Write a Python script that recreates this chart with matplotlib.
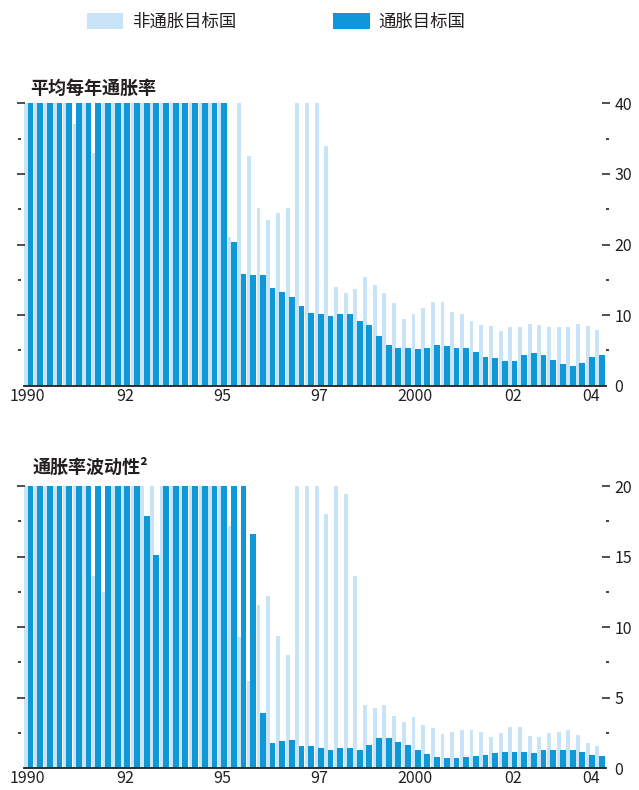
import numpy as np
import matplotlib
matplotlib.use("Agg")
import matplotlib.pyplot as plt
from matplotlib.ticker import FixedLocator

plt.rcParams['font.family'] = ['Noto Sans CJK SC', 'DejaVu Sans']

# 数据（季度柱，1990 - 2004），超出坐标上限的柱按上限截断
# 平均每年通胀率
infl_non_it = [40, 40, 40, 40, 40, 37, 40, 33, 40, 40,
               40, 40, 40, 40, 40, 40, 40, 40, 40, 40,
               40, 21, 40, 32.5, 25.1, 23.5, 24.4, 25.2, 40, 40,
               40, 34.0, 14.0, 13.1, 13.7, 15.4, 14.2, 13.2, 11.7, 9.5,
               10.2, 11.0, 11.8, 11.8, 10.4, 10.2, 9.2, 8.6, 8.4, 7.7,
               8.3, 8.3, 8.8, 8.6, 8.3, 8.3, 8.3, 8.7, 8.5, 7.9]
infl_it = [40, 40, 40, 40, 40, 40, 40, 40, 40, 40,
           40, 40, 40, 40, 40, 40, 40, 40, 40, 40,
           40, 20.4, 15.8, 15.7, 15.7, 13.9, 13.3, 12.5, 11.3, 10.3,
           10.2, 9.9, 10.2, 10.1, 9.2, 8.6, 7.0, 5.8, 5.4, 5.4,
           5.2, 5.4, 5.7, 5.6, 5.4, 5.4, 4.8, 4.1, 3.9, 3.5,
           3.5, 4.3, 4.6, 4.4, 3.7, 3.1, 2.8, 3.2, 4.1, 4.3]

# 通胀率波动性
vol_non_it = [20, 20, 20, 20, 20, 20, 20, 13.6, 12.5, 20,
              20, 20, 20, 20, 20, 20, 20, 20, 20, 20,
              20, 17.2, 9.3, 6.2, 11.6, 12.2, 9.4, 8.0, 20, 20,
              20, 18.0, 20, 19.4, 13.6, 4.5, 4.25, 4.5, 3.7, 3.3,
              3.65, 3.1, 2.85, 2.4, 2.55, 2.7, 2.7, 2.55, 2.2, 2.5,
              2.9, 2.9, 2.3, 2.2, 2.5, 2.6, 2.7, 2.35, 1.8, 1.6]
vol_it = [20, 20, 20, 20, 20, 20, 20, 20, 20, 20,
          20, 20, 17.9, 15.1, 20, 20, 20, 20, 20, 20,
          20, 20, 20, 16.6, 3.9, 1.8, 1.95, 2.0, 1.6, 1.58,
          1.42, 1.28, 1.43, 1.43, 1.32, 1.65, 2.13, 2.13, 1.89, 1.65,
          1.3, 1.0, 0.78, 0.71, 0.73, 0.8, 0.85, 0.95, 1.1, 1.15,
          1.12, 1.12, 1.06, 1.28, 1.28, 1.33, 1.28, 1.15, 0.94, 0.87]

tick_bars = [-0.3, 9.8, 19.8, 29.8, 39.7, 49.8, 57.9]
tick_labels = ['1990', '92', '95', '97', '2000', '02', '04']

light = '#c8e4f6'
dark = '#0f98d8'
ink = '#231f20'

W, H = 639, 790
fig = plt.figure(figsize=(W / 100, H / 100), dpi=100)


def panel(top_px, bot_px, non_it, it, ymax, major, minor):
    ax = fig.add_axes([24 / W, 1 - bot_px / H, 582 / W, (bot_px - top_px) / H])
    x = np.arange(len(it))
    b1 = ax.bar(x - 0.44, non_it, width=0.40, color=light, linewidth=0, zorder=1)
    b2 = ax.bar(x, it, width=0.60, color=dark, linewidth=0, zorder=2)
    ax.set_xlim(-0.67, 59.45)
    ax.set_ylim(0, ymax)
    for s in ['top', 'right']:
        ax.spines[s].set_visible(False)
    ax.spines['left'].set_position(('outward', 2.5))
    ax.spines['left'].set_visible(False)
    ax.spines['bottom'].set_linewidth(1.3)
    ax.spines['bottom'].set_color(ink)

    ax.set_xticks(tick_bars)
    ax.set_xticklabels(tick_labels, fontsize=11.5, color=ink)
    ax.tick_params(axis='x', length=0, pad=1.5)

    # 左侧只有刻度，右侧带数值
    ax.yaxis.set_major_locator(FixedLocator(np.arange(0, ymax + 0.1, major)))
    ax.yaxis.set_minor_locator(FixedLocator(np.arange(minor, ymax, major)))
    ax.tick_params(axis='y', which='both', left=True, right=True,
                   labelleft=False, labelright=True, colors=ink)
    ax.tick_params(axis='y', which='major', direction='inout', length=6,
                   width=1.1, labelsize=11.5, pad=3)
    ax.tick_params(axis='y', which='minor', direction='out', length=2,
                   width=1.2)
    ax.yaxis.get_major_ticks()[0].tick2line.set_visible(False)
    ax.yaxis.get_major_ticks()[0].tick1line.set_visible(False)
    return b1, b2


b1, b2 = panel(103.3, 385.7, infl_non_it, infl_it, 40, 10, 5)
panel(486.0, 768.3, vol_non_it, vol_it, 20, 5, 2.5)

fig.text(30 / W, 1 - 88 / H, '平均每年通胀率', fontsize=13, fontweight='bold',
         color=ink, va='center', ha='left')
fig.text(33 / W, 1 - 467 / H, '通胀率波动性²', fontsize=13, fontweight='bold',
         color=ink, va='center', ha='left')

fig.legend([b1, b2], ['非通胀目标国', '通胀目标国'], loc='center left',
           bbox_to_anchor=(78 / W, 1 - 22 / H), ncol=2, frameon=False,
           fontsize=12.5, handlelength=2.1, handleheight=1.0,
           handletextpad=0.5, columnspacing=5.6, borderpad=0,
           labelcolor=ink)

fig.savefig('out.png', dpi=100)
